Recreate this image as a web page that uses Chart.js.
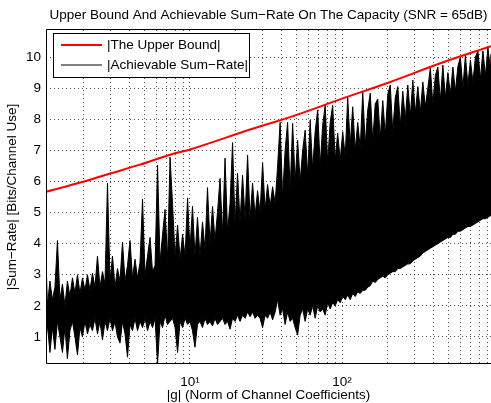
<!DOCTYPE html>
<html lang="en">
<head>
<meta charset="UTF-8">
<title>Upper Bound And Achievable Sum-Rate On The Capacity</title>
<script src="https://cdn.jsdelivr.net/npm/chart.js"></script>
<style>
  html, body { margin: 0; padding: 0; background: #fff; overflow: hidden; }
</style>
</head>
<body>
<canvas id="rateChart" width="491" height="403"></canvas>
<script>
  // red curve: upper bound on the sum-rate
  const boundX = [1.13, 1.98, 3.07, 4.69, 7.40, 10.0, 24.85, 45.58, 97.3, 207.7, 443.5, 955];
  const boundY = [5.67, 5.99, 6.27, 6.54, 6.86, 7.03, 7.67, 8.07, 8.64, 9.2, 9.80, 10.35];

  // |g| sample positions of the achievable sum-rate trace
  const gridX = [1.13,
    1.155, 1.199, 1.245, 1.294, 1.344, 1.396, 1.450, 1.505, 1.563, 1.624,
    1.687, 1.752, 1.820, 1.890, 1.963, 2.039, 2.118, 2.199, 2.284, 2.372,
    2.464, 2.559, 2.658, 2.761, 2.868, 2.978, 3.093, 3.213, 3.337, 3.466,
    3.600, 3.739, 3.883, 4.033, 4.189, 4.351, 4.519, 4.694, 4.875, 5.063,
    5.258, 5.462, 5.673, 5.893, 6.120, 6.357, 6.602, 6.857, 7.122, 7.397,
    7.683, 7.980, 8.288, 8.609, 8.941, 9.287, 9.645, 10.0, 10.39, 10.79,
    11.21, 11.64, 12.09, 12.56, 13.04, 13.55, 14.07, 14.61, 15.17, 15.77,
    16.38, 17.01, 17.67, 18.35, 19.06, 19.79, 20.55, 21.35, 22.17, 23.04,
    23.93, 24.85, 25.81, 26.81, 27.84, 28.92, 30.04, 31.20, 32.40, 33.66,
    34.96, 36.31, 37.71, 39.17, 40.68, 42.25, 43.88, 45.58, 47.34, 49.17,
    51.07, 53.05, 55.10, 57.23, 59.44, 61.73, 64.11, 66.60, 69.17, 71.84,
    74.61, 77.50, 80.49, 83.61, 86.84, 90.19, 93.67, 97.30, 101.1, 105.0,
    109.0, 113.2, 117.6, 122.2, 126.9, 131.8, 136.9, 142.2, 147.7, 153.4,
    159.3, 165.5, 171.9, 178.5, 185.4, 192.6, 200.0, 207.7, 215.7, 224.1,
    232.8, 241.8, 251.1, 260.8, 270.9, 281.4, 292.3, 303.5, 315.2, 327.5,
    340.1, 353.3, 366.9, 381.1, 395.8, 411.1, 427.0, 443.5, 460.6, 478.5,
    497.0, 516.2, 536.1, 556.9, 578.4, 600.7, 623.9, 648.1, 673.1, 699.2,
    726.2, 754.3, 783.4, 813.7, 845.1, 877.8, 911.7, 947.0,
    955];

  // upper edge of the achievable sum-rate trace (peaks of the noise)
  const rateTop = [3.5,
    2.0, 2.8, 2.2, 2.6, 4.1, 2.2, 2.7, 2.0, 2.8, 2.3,
    2.9, 2.4, 3.0, 2.4, 2.9, 2.5, 3.0, 2.5, 3.05, 2.6,
    3.6, 2.6, 3.1, 2.7, 5.95, 2.8, 3.6, 2.6, 3.2, 2.8,
    4.05, 2.8, 3.3, 4.1, 2.9, 3.5, 2.9, 3.4, 5.43, 3.0,
    3.6, 4.2, 3.1, 3.3, 6.53, 3.4, 4.3, 5.1, 3.5, 6.78,
    5.27, 3.6, 4.6, 3.5, 4.3, 3.6, 5.47, 3.8, 5.2, 3.6,
    4.85, 3.6, 4.7, 3.8, 5.8, 4.0, 5.2, 4.1, 5.0, 6.1,
    4.3, 6.75, 4.4, 5.3, 7.25, 4.6, 6.27, 4.7, 6.2, 4.8,
    6.85, 4.8, 5.95, 4.9, 5.7, 5.0, 6.6, 5.1, 5.9, 5.2,
    5.83, 5.3, 6.5, 7.9, 5.5, 7.0, 7.9, 5.7, 7.87, 6.0,
    7.33, 6.0, 7.0, 7.65, 6.2, 7.97, 6.4, 7.6, 8.3, 6.5,
    7.8, 8.45, 6.6, 7.9, 8.45, 6.7, 7.55, 6.7, 7.6, 6.8,
    8.7, 7.17, 8.4, 7.0, 7.9, 7.07, 8.87, 7.2, 8.3, 8.84,
    7.3, 8.5, 8.65, 7.4, 8.6, 7.5, 8.8, 9.1, 7.6, 8.7,
    9.05, 7.8, 8.9, 8.0, 9.1, 8.1, 9.26, 8.2, 9.05, 8.23,
    9.2, 8.4, 9.0, 9.65, 8.5, 9.4, 9.68, 8.6, 9.74, 8.7,
    9.5, 8.8, 9.68, 8.9, 9.7, 10.0, 9.0, 10.05, 9.1, 9.9,
    9.2, 10.0, 10.2, 9.3, 10.2, 9.4, 10.3, 9.6,
    10.1];

  // lower edge of the achievable sum-rate trace (dips of the noise)
  const rateBot = [0.9,
    1.4, 0.5, 1.3, 0.6, 1.5, 1.0, 0.5, 1.3, 0.3, 1.2,
    1.5, 1.0, 0.42, 1.3, 1.0, 1.5, 1.1, 1.4, 1.2, 1.6,
    1.1, 1.5, 0.9, 1.5, 1.2, 1.6, 1.2, 1.5, 1.0, 0.8,
    1.5, 1.1, 0.35, 1.4, 1.2, 1.6, 1.2, 1.5, 1.3, 1.6,
    1.2, 1.5, 1.3, 1.6, 0.13, 1.5, 1.3, 1.7, 1.4, 1.5,
    1.6, 1.3, 0.5, 1.5, 1.3, 1.6, 1.4, 1.5, 1.2, 0.67,
    1.4, 1.5, 1.3, 1.6, 1.4, 1.5, 1.35, 1.6, 1.4, 1.5,
    1.6, 1.4, 1.5, 1.25, 1.6, 1.5, 1.7, 1.5, 1.7, 1.6,
    1.8, 1.65, 1.8, 1.6, 1.7, 1.6, 1.3, 1.7, 1.6, 1.8,
    1.55, 1.8, 2.2, 1.7, 1.9, 1.4, 1.8, 1.5, 1.6, 1.3,
    1.06, 1.7, 1.9, 1.5, 1.9, 1.7, 2.0, 1.6, 2.0, 1.8,
    1.9, 1.7, 2.1, 1.9, 2.1, 2.0, 2.2, 2.1, 2.3, 2.2,
    2.35, 2.2, 2.4, 2.3, 2.45, 2.4, 2.5, 2.5, 2.6, 2.65,
    2.8, 2.75, 2.85, 2.9, 2.95, 2.9, 3.0, 3.05, 3.1, 3.1,
    3.2, 3.2, 3.25, 3.3, 3.35, 3.35, 3.45, 3.5, 3.55, 3.6,
    3.7, 3.75, 3.8, 3.85, 3.9, 3.95, 4.0, 4.05, 4.1, 4.15,
    4.2, 4.2, 4.3, 4.3, 4.4, 4.4, 4.45, 4.5, 4.55, 4.55,
    4.6, 4.65, 4.7, 4.75, 4.8, 4.8, 4.85, 4.9,
    4.9];

  // axes
  const xGridTicks = [2, 3, 4, 5, 6, 7, 8, 9, 10, 20, 30, 40, 50, 60, 70, 80, 90,
    100, 200, 300, 400, 500, 600, 700, 800, 900];
  const xMajorTicks = [10, 100];
  const xMajorLabels = ['10\u00b9', '10\u00b2'];
  const yTicks = [1, 2, 3, 4, 5, 6, 7, 8, 9, 10];

  const FONT = '"Liberation Sans", Arial, Helvetica, sans-serif';
  const FONT_SIZE = 13.5;
  const gridColor = 'rgba(0, 0, 0, 0.7)';

  Chart.defaults.font.family = FONT;
  Chart.defaults.font.size = FONT_SIZE;
  Chart.defaults.color = '#000';

  const toPoints = (xs, ys) => xs.map((x, i) => ({ x, y: ys[i] }));

  // box round the axes + legend drawn inside the plot, MATLAB style
  const frameAndLegend = {
    id: 'frameAndLegend',
    afterDatasetsDraw(chart) {
      const { ctx, chartArea } = chart;
      ctx.save();
      ctx.strokeStyle = '#000';
      ctx.lineWidth = 1;
      ctx.beginPath();
      ctx.moveTo(chartArea.right + 1, chartArea.top - 0.5);
      ctx.lineTo(chartArea.left + 0.5, chartArea.top - 0.5);
      ctx.lineTo(chartArea.left + 0.5, chartArea.bottom - 0.5);
      ctx.lineTo(chartArea.right + 1, chartArea.bottom - 0.5);
      ctx.stroke();

      const lx = chartArea.left + 7, ly = chartArea.top + 3, lw = 196, lh = 44;
      ctx.fillStyle = '#fff';
      ctx.fillRect(lx, ly, lw, lh);
      ctx.strokeRect(lx + 0.5, ly + 0.5, lw, lh);

      const items = chart.data.datasets.filter(d => d.label);
      items.forEach((d, i) => {
        const y = ly + 12 + i * 20;
        ctx.strokeStyle = d.borderColor;
        ctx.lineWidth = d.borderWidth;
        ctx.beginPath();
        ctx.moveTo(lx + 8, y);
        ctx.lineTo(lx + 49, y);
        ctx.stroke();
        ctx.fillStyle = '#000';
        ctx.font = FONT_SIZE + 'px ' + FONT;
        ctx.textBaseline = 'middle';
        ctx.textAlign = 'left';
        ctx.fillText(d.label, lx + 54, y + 0.5);
      });
      ctx.restore();
    }
  };

  new Chart(document.getElementById('rateChart'), {
    type: 'line',
    data: {
      datasets: [{
        label: '|The Upper Bound|',
        data: toPoints(boundX, boundY),
        borderColor: '#ff0000',
        borderWidth: 2,
        pointRadius: 0,
        cubicInterpolationMode: 'monotone',
        fill: false
      }, {
        label: '|Achievable Sum\u2212Rate|',
        data: toPoints(gridX, rateTop),
        borderColor: '#000',
        backgroundColor: '#000',
        borderWidth: 1,
        pointRadius: 0,
        fill: '+1'
      }, {
        label: '',
        data: toPoints(gridX, rateBot),
        borderColor: '#000',
        borderWidth: 1,
        pointRadius: 0,
        fill: false
      }]
    },
    options: {
      responsive: false,
      animation: false,
      layout: { padding: 0, autoPadding: false },
      plugins: {
        legend: { display: false },
        tooltip: { enabled: false },
        title: {
          display: true,
          fullSize: false,
          text: 'Upper Bound And Achievable Sum\u2212Rate On The Capacity (SNR = 65dB)',
          color: '#000',
          font: { size: FONT_SIZE, weight: 'normal' },
          padding: { top: 6.8, bottom: 7 }
        }
      },
      scales: {
        x: {
          type: 'logarithmic',
          min: 1.13,
          max: 955,
          afterBuildTicks: s => { s.ticks = xGridTicks.map(v => ({ value: v })); },
          afterFit: s => { s.height = 39; s.paddingLeft = 0; s.paddingRight = 0; },
          grid: { color: gridColor, lineWidth: 1, drawTicks: false },
          border: { display: false, dash: [1, 3] },
          ticks: {
            autoSkip: false,
            maxRotation: 0,
            padding: 10,
            callback: v => {
              const k = xMajorTicks.indexOf(v);
              return k >= 0 ? xMajorLabels[k] : '';
            }
          },
          title: {
            display: true,
            text: '|g| (Norm of Channel Coefficients)',
            padding: { top: 0, bottom: 0 }
          }
        },
        y: {
          type: 'linear',
          min: 0.13,
          max: 10.87,
          afterBuildTicks: s => { s.ticks = yTicks.map(v => ({ value: v })); },
          afterFit: s => { s.width = 46; s.paddingTop = 0; s.paddingBottom = 0; },
          grid: { color: gridColor, lineWidth: 1, drawTicks: false },
          border: { display: false, dash: [1, 3] },
          ticks: { padding: 5 },
          title: {
            display: true,
            text: '|Sum\u2212Rate| [Bits/Channel Use]',
            padding: { top: 4, bottom: 0 }
          }
        }
      }
    },
    plugins: [frameAndLegend]
  });
</script>
</body>
</html>
